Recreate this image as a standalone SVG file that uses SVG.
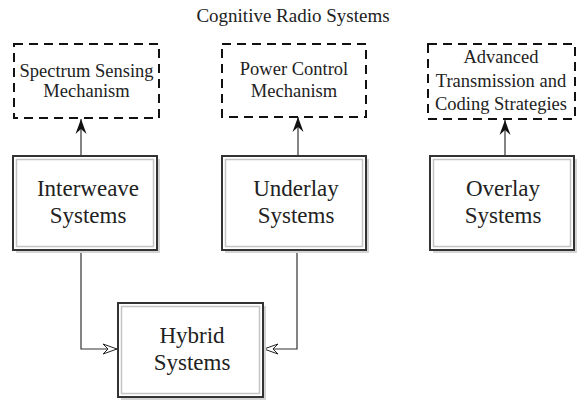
<svg xmlns="http://www.w3.org/2000/svg" width="581" height="401" viewBox="0 0 581 401">
<defs>
<style>
text{font-family:"Liberation Serif","Times New Roman",serif;fill:#222;text-anchor:middle}
.t{font-size:19px}
.b{font-size:23px}
.d{font-size:18.5px}
.dash{fill:none;stroke:#111;stroke-width:2;stroke-dasharray:9 6}
.sh{fill:#d4d4d4}
.outer{fill:#fff;stroke:#333;stroke-width:2}
.inner{fill:none;stroke:#c4c4c4;stroke-width:1.5}
.c{fill:none;stroke:#333;stroke-width:1.2}
</style>
<marker id="up" markerUnits="userSpaceOnUse" markerWidth="20" markerHeight="14" refX="0" refY="0" viewBox="-16 -7 18 14" orient="auto" overflow="visible">
<path d="M-15,-5.5 L0,0 L-15,5.5 L-10,0 Z" fill="#111"/>
</marker>
<marker id="open" markerUnits="userSpaceOnUse" markerWidth="20" markerHeight="14" refX="0" refY="0" viewBox="-16 -7 18 14" orient="auto" overflow="visible">
<path d="M-14,-5 L0,0 L-14,5 L-9,0 Z" fill="#fff" stroke="#222" stroke-width="1"/>
</marker>
</defs>
<rect width="581" height="401" fill="#fff"/>
<g id="title"><text class="t" x="293" y="22">Cognitive Radio Systems</text></g>

<g id="connectors">
<path class="c" d="M81,156 V119" marker-end="url(#up)"/>
<path class="c" d="M298,156 V117" marker-end="url(#up)"/>
<path class="c" d="M505,156 V120" marker-end="url(#up)"/>
<path class="c" d="M81,250 V349 H117" marker-end="url(#open)"/>
<path class="c" d="M297,250 V349 H264" marker-end="url(#open)"/>
</g>

<g id="spectrum">
<rect class="dash" x="14" y="44" width="145" height="74"/>
<text class="d" x="86.5" y="77">Spectrum Sensing</text>
<text class="d" x="86.5" y="97">Mechanism</text>
</g>
<g id="power">
<rect class="dash" x="222" y="44" width="144" height="73"/>
<text class="d" x="294" y="75">Power Control</text>
<text class="d" x="294" y="97">Mechanism</text>
</g>
<g id="advanced">
<rect class="dash" x="428" y="44" width="147" height="75"/>
<text class="d" x="501" y="63">Advanced</text>
<text class="d" x="501" y="87">Transmission and</text>
<text class="d" x="501" y="110">Coding Strategies</text>
</g>

<g id="interweave">
<rect class="sh" x="16" y="159" width="144" height="94"/>
<rect class="outer" x="13" y="156" width="144" height="94"/>
<rect class="inner" x="16.5" y="159.5" width="137" height="87"/>
<text class="b" x="88" y="196">Interweave</text>
<text class="b" x="88" y="223">Systems</text>
</g>
<g id="underlay">
<rect class="sh" x="225" y="159" width="144" height="94"/>
<rect class="outer" x="222" y="156" width="144" height="94"/>
<rect class="inner" x="225.5" y="159.5" width="137" height="87"/>
<text class="b" x="296" y="196">Underlay</text>
<text class="b" x="296" y="223">Systems</text>
</g>
<g id="overlay">
<rect class="sh" x="433" y="159" width="144" height="94"/>
<rect class="outer" x="430" y="156" width="144" height="94"/>
<rect class="inner" x="433.5" y="159.5" width="137" height="87"/>
<text class="b" x="503" y="196">Overlay</text>
<text class="b" x="503" y="223">Systems</text>
</g>
<g id="hybrid">
<rect class="sh" x="121" y="306" width="145" height="94"/>
<rect class="outer" x="118" y="303" width="145" height="94"/>
<rect class="inner" x="121.5" y="306.5" width="138" height="87"/>
<text class="b" x="192" y="343">Hybrid</text>
<text class="b" x="192" y="370">Systems</text>
</g>
</svg>
